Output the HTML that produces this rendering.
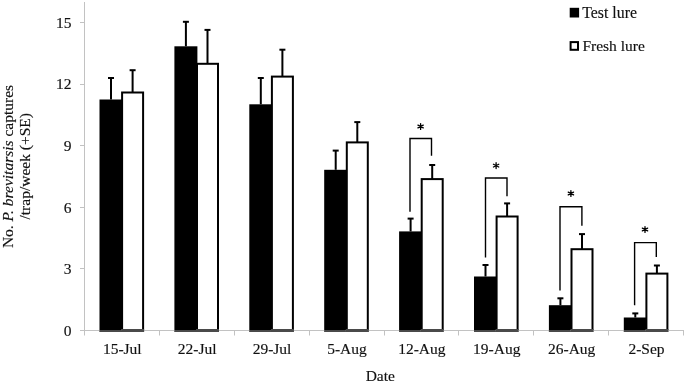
<!DOCTYPE html>
<html><head><meta charset="utf-8"><style>
html,body{margin:0;padding:0;background:#fff;}
body{width:685px;height:383px;overflow:hidden;}
svg{display:block;filter:grayscale(100%);}
text{font-family:"Liberation Serif", serif;font-size:15.5px;fill:#111;stroke:#111;stroke-width:0.15px;}
</style></head><body>
<svg width="685" height="383" viewBox="0 0 685 383">
<g>
<rect width="685" height="383" fill="#fff"/>

<line x1="80" y1="330.5" x2="84.5" y2="330.5" stroke="#c2c2c2" stroke-width="1"/>
<text x="71.6" y="335.8" text-anchor="end">0</text>
<line x1="80" y1="268.5" x2="84.5" y2="268.5" stroke="#c2c2c2" stroke-width="1"/>
<text x="71.6" y="274.2" text-anchor="end">3</text>
<line x1="80" y1="207.5" x2="84.5" y2="207.5" stroke="#c2c2c2" stroke-width="1"/>
<text x="71.6" y="212.6" text-anchor="end">6</text>
<line x1="80" y1="145.5" x2="84.5" y2="145.5" stroke="#c2c2c2" stroke-width="1"/>
<text x="71.6" y="151.0" text-anchor="end">9</text>
<line x1="80" y1="84.5" x2="84.5" y2="84.5" stroke="#c2c2c2" stroke-width="1"/>
<text x="71.6" y="89.4" text-anchor="end">12</text>
<line x1="80" y1="22.5" x2="84.5" y2="22.5" stroke="#c2c2c2" stroke-width="1"/>
<text x="71.6" y="27.8" text-anchor="end">15</text>
<rect x="99.50" y="99.50" width="23.00" height="232.00" fill="#000"/>
<rect x="122.10" y="92.50" width="21" height="238.00" fill="#fff" stroke="#000" stroke-width="2"/>
<line x1="111.00" y1="99.50" x2="111.00" y2="78.00" stroke="#000" stroke-width="2"/>
<line x1="108.00" y1="78.00" x2="114.00" y2="78.00" stroke="#000" stroke-width="2"/>
<line x1="132.60" y1="92.50" x2="132.60" y2="70.20" stroke="#000" stroke-width="2"/>
<line x1="129.60" y1="70.20" x2="135.60" y2="70.20" stroke="#000" stroke-width="2"/>
<text x="122.25" y="354.2" text-anchor="middle">15-Jul</text>
<rect x="174.40" y="46.30" width="23.00" height="285.20" fill="#000"/>
<rect x="197.00" y="63.80" width="21" height="266.70" fill="#fff" stroke="#000" stroke-width="2"/>
<line x1="185.90" y1="46.30" x2="185.90" y2="21.80" stroke="#000" stroke-width="2"/>
<line x1="182.90" y1="21.80" x2="188.90" y2="21.80" stroke="#000" stroke-width="2"/>
<line x1="207.50" y1="63.80" x2="207.50" y2="29.90" stroke="#000" stroke-width="2"/>
<line x1="204.50" y1="29.90" x2="210.50" y2="29.90" stroke="#000" stroke-width="2"/>
<text x="197.15" y="354.2" text-anchor="middle">22-Jul</text>
<rect x="249.30" y="104.30" width="23.00" height="227.20" fill="#000"/>
<rect x="271.90" y="76.60" width="21" height="253.90" fill="#fff" stroke="#000" stroke-width="2"/>
<line x1="260.80" y1="104.30" x2="260.80" y2="78.00" stroke="#000" stroke-width="2"/>
<line x1="257.80" y1="78.00" x2="263.80" y2="78.00" stroke="#000" stroke-width="2"/>
<line x1="282.40" y1="76.60" x2="282.40" y2="49.70" stroke="#000" stroke-width="2"/>
<line x1="279.40" y1="49.70" x2="285.40" y2="49.70" stroke="#000" stroke-width="2"/>
<text x="272.05" y="354.2" text-anchor="middle">29-Jul</text>
<rect x="324.20" y="169.80" width="23.00" height="161.70" fill="#000"/>
<rect x="346.80" y="142.40" width="21" height="188.10" fill="#fff" stroke="#000" stroke-width="2"/>
<line x1="335.70" y1="169.80" x2="335.70" y2="150.60" stroke="#000" stroke-width="2"/>
<line x1="332.70" y1="150.60" x2="338.70" y2="150.60" stroke="#000" stroke-width="2"/>
<line x1="357.30" y1="142.40" x2="357.30" y2="122.10" stroke="#000" stroke-width="2"/>
<line x1="354.30" y1="122.10" x2="360.30" y2="122.10" stroke="#000" stroke-width="2"/>
<text x="346.95" y="354.2" text-anchor="middle">5-Aug</text>
<rect x="399.10" y="231.40" width="23.00" height="100.10" fill="#000"/>
<rect x="421.70" y="179.10" width="21" height="151.40" fill="#fff" stroke="#000" stroke-width="2"/>
<line x1="410.60" y1="231.40" x2="410.60" y2="218.60" stroke="#000" stroke-width="2"/>
<line x1="407.60" y1="218.60" x2="413.60" y2="218.60" stroke="#000" stroke-width="2"/>
<line x1="432.20" y1="179.10" x2="432.20" y2="165.00" stroke="#000" stroke-width="2"/>
<line x1="429.20" y1="165.00" x2="435.20" y2="165.00" stroke="#000" stroke-width="2"/>
<text x="421.85" y="354.2" text-anchor="middle">12-Aug</text>
<rect x="474.00" y="276.50" width="23.00" height="55.00" fill="#000"/>
<rect x="496.60" y="216.50" width="21" height="114.00" fill="#fff" stroke="#000" stroke-width="2"/>
<line x1="485.50" y1="276.50" x2="485.50" y2="265.00" stroke="#000" stroke-width="2"/>
<line x1="482.50" y1="265.00" x2="488.50" y2="265.00" stroke="#000" stroke-width="2"/>
<line x1="507.10" y1="216.50" x2="507.10" y2="203.40" stroke="#000" stroke-width="2"/>
<line x1="504.10" y1="203.40" x2="510.10" y2="203.40" stroke="#000" stroke-width="2"/>
<text x="496.75" y="354.2" text-anchor="middle">19-Aug</text>
<rect x="548.90" y="305.20" width="23.00" height="26.30" fill="#000"/>
<rect x="571.50" y="249.20" width="21" height="81.30" fill="#fff" stroke="#000" stroke-width="2"/>
<line x1="560.40" y1="305.20" x2="560.40" y2="298.30" stroke="#000" stroke-width="2"/>
<line x1="557.40" y1="298.30" x2="563.40" y2="298.30" stroke="#000" stroke-width="2"/>
<line x1="582.00" y1="249.20" x2="582.00" y2="234.10" stroke="#000" stroke-width="2"/>
<line x1="579.00" y1="234.10" x2="585.00" y2="234.10" stroke="#000" stroke-width="2"/>
<text x="571.65" y="354.2" text-anchor="middle">26-Aug</text>
<rect x="623.80" y="317.50" width="23.00" height="14.00" fill="#000"/>
<rect x="646.40" y="273.60" width="21" height="56.90" fill="#fff" stroke="#000" stroke-width="2"/>
<line x1="635.30" y1="317.50" x2="635.30" y2="313.40" stroke="#000" stroke-width="2"/>
<line x1="632.30" y1="313.40" x2="638.30" y2="313.40" stroke="#000" stroke-width="2"/>
<line x1="656.90" y1="273.60" x2="656.90" y2="265.50" stroke="#000" stroke-width="2"/>
<line x1="653.90" y1="265.50" x2="659.90" y2="265.50" stroke="#000" stroke-width="2"/>
<text x="646.55" y="354.2" text-anchor="middle">2-Sep</text>
<polyline points="410.00,211.7 410.00,138.5 431.50,138.5 431.50,155.7" fill="none" stroke="#000" stroke-width="1.4"/>
<path d="M420.60,123.60V129.40M417.95,125.10L423.25,127.90M417.95,127.90L423.25,125.10" stroke="#000" stroke-width="1.3" stroke-linecap="round" fill="none"/>
<polyline points="485.50,257.6 485.50,178.0 507.00,178.0 507.00,196.3" fill="none" stroke="#000" stroke-width="1.4"/>
<path d="M496.10,162.70V168.50M493.45,164.20L498.75,167.00M493.45,167.00L498.75,164.20" stroke="#000" stroke-width="1.3" stroke-linecap="round" fill="none"/>
<polyline points="560.00,290.4 560.00,206.7 581.90,206.7 581.90,225.7" fill="none" stroke="#000" stroke-width="1.4"/>
<path d="M570.90,190.60V196.40M568.25,192.10L573.55,194.90M568.25,194.90L573.55,192.10" stroke="#000" stroke-width="1.3" stroke-linecap="round" fill="none"/>
<polyline points="634.60,305.2 634.60,242.6 656.30,242.6 656.30,257.0" fill="none" stroke="#000" stroke-width="1.4"/>
<path d="M645.00,226.60V232.40M642.35,228.10L647.65,230.90M642.35,230.90L647.65,228.10" stroke="#000" stroke-width="1.3" stroke-linecap="round" fill="none"/>
<line x1="84.5" y1="2" x2="84.5" y2="335.5" stroke="#c2c2c2" stroke-width="1"/>
<line x1="80" y1="330.5" x2="684" y2="330.5" stroke="#c2c2c2" stroke-width="1"/>
<line x1="159.5" y1="330.5" x2="159.5" y2="335.5" stroke="#c2c2c2" stroke-width="1"/>
<line x1="234.5" y1="330.5" x2="234.5" y2="335.5" stroke="#c2c2c2" stroke-width="1"/>
<line x1="309.5" y1="330.5" x2="309.5" y2="335.5" stroke="#c2c2c2" stroke-width="1"/>
<line x1="384.5" y1="330.5" x2="384.5" y2="335.5" stroke="#c2c2c2" stroke-width="1"/>
<line x1="458.5" y1="330.5" x2="458.5" y2="335.5" stroke="#c2c2c2" stroke-width="1"/>
<line x1="533.5" y1="330.5" x2="533.5" y2="335.5" stroke="#c2c2c2" stroke-width="1"/>
<line x1="608.5" y1="330.5" x2="608.5" y2="335.5" stroke="#c2c2c2" stroke-width="1"/>
<line x1="683.5" y1="330.5" x2="683.5" y2="335.5" stroke="#c2c2c2" stroke-width="1"/>
<rect x="99.50" y="330" width="21.60" height="2" fill="#4a4a4a"/>
<rect x="121.10" y="329" width="23.00" height="3" fill="#4a4a4a"/>
<rect x="174.40" y="330" width="21.60" height="2" fill="#4a4a4a"/>
<rect x="196.00" y="329" width="23.00" height="3" fill="#4a4a4a"/>
<rect x="249.30" y="330" width="21.60" height="2" fill="#4a4a4a"/>
<rect x="270.90" y="329" width="23.00" height="3" fill="#4a4a4a"/>
<rect x="324.20" y="330" width="21.60" height="2" fill="#4a4a4a"/>
<rect x="345.80" y="329" width="23.00" height="3" fill="#4a4a4a"/>
<rect x="399.10" y="330" width="21.60" height="2" fill="#4a4a4a"/>
<rect x="420.70" y="329" width="23.00" height="3" fill="#4a4a4a"/>
<rect x="474.00" y="330" width="21.60" height="2" fill="#4a4a4a"/>
<rect x="495.60" y="329" width="23.00" height="3" fill="#4a4a4a"/>
<rect x="548.90" y="330" width="21.60" height="2" fill="#4a4a4a"/>
<rect x="570.50" y="329" width="23.00" height="3" fill="#4a4a4a"/>
<rect x="623.80" y="330" width="21.60" height="2" fill="#4a4a4a"/>
<rect x="645.40" y="329" width="23.00" height="3" fill="#4a4a4a"/>
<text transform="translate(13,166.5) rotate(-90)" text-anchor="middle">No. <tspan font-style="italic">P. brevitarsis</tspan> captures</text>
<text transform="translate(30,166.3) rotate(-90)" text-anchor="middle">/trap/week (+SE)</text>
<text x="380.3" y="381" text-anchor="middle">Date</text>
<rect x="569.7" y="7.8" width="9.4" height="9.7" fill="#000"/>
<text x="582.3" y="17.5" style="font-size:15.8px">Test lure</text>
<rect x="570.6" y="42.1" width="7.4" height="7.7" fill="#fff" stroke="#000" stroke-width="2"/>
<text x="582.4" y="50.8">Fresh lure</text>
</g></svg>
</body></html>
